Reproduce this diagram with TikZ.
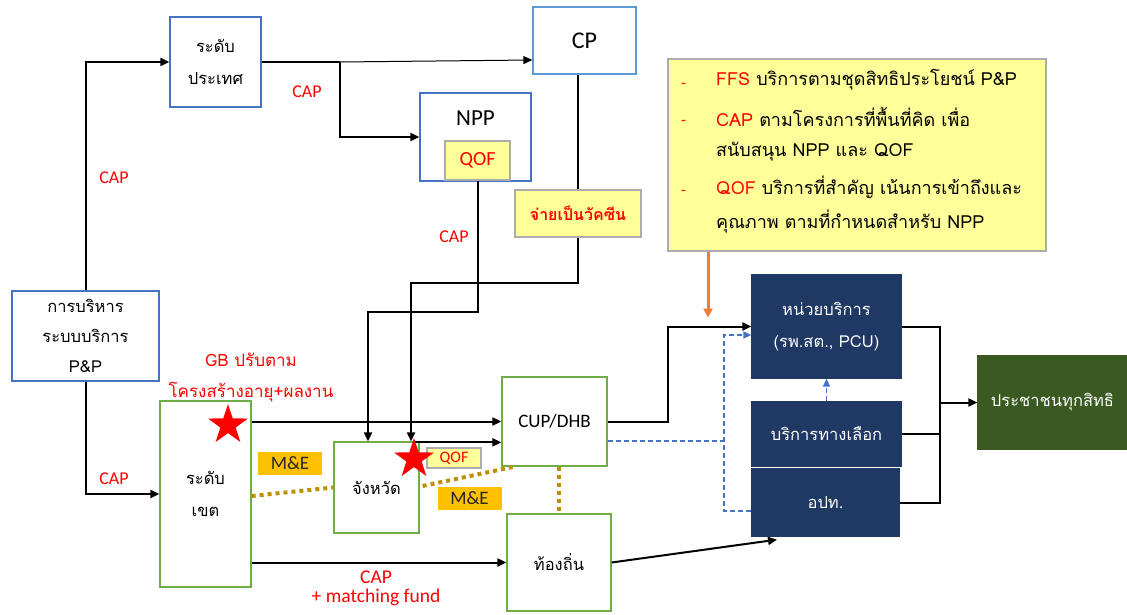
\documentclass[tikz,border=0pt]{standalone}
\usepackage{fontspec}
\setmainfont{Carlito}
\newfontfamily\thai[Script=Thai]{Loma}
\usetikzlibrary{arrows.meta,shapes.geometric,calc}

\definecolor{bordblue}{HTML}{4472C4}
\definecolor{cpblue}{HTML}{5B9BD5}
\definecolor{bordgreen}{HTML}{70AD47}
\definecolor{navy}{HTML}{1F3864}
\definecolor{forest}{HTML}{3A5A22}
\definecolor{paleyellow}{HTML}{FFFF99}
\definecolor{amber}{HTML}{FFC000}
\definecolor{gold}{HTML}{BF9000}
\definecolor{tangerine}{HTML}{ED7D31}
\definecolor{hotred}{HTML}{FF0000}

\begin{document}
\begin{tikzpicture}[x=1pt,y=-1pt,
  box/.style={draw, line width=1.3pt, inner sep=0pt, align=center, fill=white},
  bluebox/.style={box, draw=bordblue},
  greenbox/.style={box, draw=bordgreen},
  navybox/.style={box, draw=navy, fill=navy, text=white},
  tag/.style={draw=gray!65, line width=1.2pt, fill=paleyellow, inner sep=0pt, align=center},
  metag/.style={fill=amber, inner sep=0pt, minimum width=64pt, minimum height=23pt, font=\fontsize{19}{20}\selectfont, text=black!85},
  thaitext/.style={font=\thai\fontsize{16.5}{32}\selectfont},
  lbl/.style={text=hotred, font=\fontsize{18}{20}\selectfont, inner sep=0pt, align=center},
  link/.style={line width=2pt, -{Triangle[length=9pt,width=8pt]}},
  wire/.style={line width=2pt},
  gdot/.style={draw=gold, line width=4pt, dash pattern=on 4pt off 4pt},
  bdash/.style={draw=bordblue, line width=1.6pt, dash pattern=on 5pt off 3pt},
  redstar/.style={star, star points=5, star point ratio=2.6, fill=hotred, draw=none, inner sep=0pt, minimum size=42pt}
]
\fill[white] (0,0) rectangle (1127,615);
\useasboundingbox (0,0) rectangle (1127,615);

% ---------- boxes ----------
\node[bluebox, thaitext, minimum width=91pt, minimum height=90pt] (prathet) at (215.5,62) {ระดับ\\ประเทศ};
\node[box, draw=cpblue, minimum width=103pt, minimum height=67pt, font=\fontsize{24}{26}\selectfont] (cp) at (584.5,40.5) {CP};
\node[bluebox, minimum width=111pt, minimum height=88pt] (npp) at (475.5,137) {};
\node[font=\fontsize{23}{25}\selectfont, inner sep=0pt] (npplabel) at (475.5,118) {NPP};
\node[tag, minimum width=65pt, minimum height=39pt, text=hotred, font=\fontsize{20}{22}\selectfont] (qof) at (477.5,160.5) {QOF};
\node[tag, minimum width=126pt, minimum height=47pt, text=hotred, font=\thai\bfseries\fontsize{16}{20}\selectfont] (vac) at (578,213.5) {จ่ายเป็นวัคซีน};
\node[tag, minimum width=378pt, minimum height=192pt] (note) at (857,155) {};

\node[bluebox, thaitext, font=\thai\fontsize{16.5}{30}\selectfont, minimum width=147pt, minimum height=90pt] (admin) at (85.5,336) {การบริหาร\\ระบบบริการ\\P\&P};
\node[greenbox, thaitext, minimum width=91pt, minimum height=186pt] (khet) at (205.5,494) {ระดับ\\เขต};
\node[greenbox, thaitext, minimum width=85pt, minimum height=91pt] (changwat) at (376.5,487.5) {จังหวัด};
\node[greenbox, minimum width=105pt, minimum height=89pt, font=\fontsize{19}{21}\selectfont] (cup) at (554.5,421.5) {CUP/DHB};
\node[greenbox, thaitext, minimum width=104pt, minimum height=97pt] (local) at (559,562.5) {ท้องถิ่น};

\node[navybox, thaitext, minimum width=149pt, minimum height=103pt] (unit) at (826.5,326.5) {หน่วยบริการ\\(รพ.สต., PCU)};
\node[navybox, thaitext, minimum width=149pt, minimum height=64pt] (alt) at (826.5,434) {บริการทางเลือก};
\node[navybox, thaitext, minimum width=147pt, minimum height=67pt] (opt) at (825.5,502.5) {อปท.};
\node[box, draw=forest, fill=forest, text=white, thaitext, minimum width=149pt, minimum height=93pt] (people) at (1052.5,402.5) {ประชาชนทุกสิทธิ};

% ---------- note text ----------
\begin{scope}[every node/.style={anchor=west, inner sep=0pt, font=\thai\fontsize{18}{20}\selectfont},
  bullet/.style={text=hotred, font=\fontsize{16}{18}\selectfont}]
  \node[bullet] (d1) at (681,86) {-};
  \node (n1) at (716,80) {\textcolor{hotred}{FFS} บริการตามชุดสิทธิประโยชน์ P\&P};
  \node[bullet] (d2) at (681,123) {-};
  \node (n2) at (716,117) {\textcolor{hotred}{CAP} ตามโครงการที่พื้นที่คิด เพื่อ};
  \node (n3) at (716,152) {สนับสนุน NPP และ QOF};
  \node[bullet] (d3) at (681,193) {-};
  \node (n4) at (716,187) {\textcolor{hotred}{QOF} บริการที่สำคัญ เน้นการเข้าถึงและ};
  \node (n5) at (716,222) {คุณภาพ ตามที่กำหนดสำหรับ NPP};
\end{scope}

% ---------- small tags ----------
\node[metag] (me1) at (290,463) {M\&E};
\node[metag] (me2) at (469.5,498.5) {M\&E};
\node[tag, minimum width=54pt, minimum height=20pt, text=hotred, font=\fontsize{16}{18}\selectfont] (qofs) at (454,458) {QOF};

% ---------- labels ----------
\node[lbl] (capa) at (114,178) {CAP};
\node[lbl] (capb) at (307,92) {CAP};
\node[lbl] (capc) at (454,237) {CAP};
\node[lbl] (capd) at (114,479) {CAP};
\node[lbl, font=\thai\fontsize{17}{31}\selectfont] (gb) at (251,377) {GB ปรับตาม\\โครงสร้างอายุ+ผลงาน};
\node[lbl, font=\fontsize{19.5}{19}\selectfont] (capm) at (376,588) {CAP\\+ matching fund};

% ---------- connectors ----------
\draw[link] (admin.north) |- (prathet.west);
\draw[link] (admin.south) |- (khet.west);

\coordinate (split) at (340,62);
\draw[wire] (prathet.east) -- (split);
\draw[link] (split) |- (npp.west);
\draw[line width=1pt, -{Triangle[length=9pt,width=8pt]}] (split) -- ([yshift=-19.5pt]cp.west);

\draw[wire] ([xshift=-6.5pt]cp.south) -- (vac.north);
\draw[link] (vac.south) -- ++(0,45) -| ([xshift=34.5pt]changwat.north);
\draw[link] (qof.south) -- ++(0,131.5) -| ([xshift=-8.5pt]changwat.north);

\draw[link] (khet.east |- cup.west) -- (cup.west);
\draw[link] ([xshift=-7pt,yshift=-1pt]changwat.north east) coordinate (s2) -- (s2 -| cup.west);
\draw[link] (khet.east |- local.west) -- (local.west);
\draw[link] (local.east) -- ([xshift=-48.5pt,yshift=-3pt]opt.south);

\draw[link] (cup.east) -- ++(60,0) |- (unit.west);
\draw[bdash] ([yshift=-19.5pt]cup.east) -- (724,441);
\draw[bdash, -{Triangle[length=8pt,width=7pt]}] ([yshift=-8.5pt]opt.west) -| (724,335) -- ([yshift=-8.5pt]unit.west);
\draw[bdash, -{Triangle[length=8pt,width=7pt]}] (alt.north) -- (unit.south);

\coordinate (bus) at (940,402.5);
\draw[wire] (unit.east) -| (bus);
\draw[wire] (alt.east) -| (bus);
\draw[wire] (opt.east) -| (bus);
\draw[link] (bus) -- (people.west);

\draw[draw=tangerine, line width=3pt, -{Triangle[length=9pt,width=9pt]}] ([xshift=-149pt]note.south) -- ++(0,66);

% ---------- dotted monitoring lines ----------
\draw[gdot] ([yshift=-2pt]khet.east) -- (changwat.west);
\draw[gdot] ([xshift=3pt,yshift=1.5pt]changwat.east) -- ([xshift=13pt]cup.south west);
\draw[gdot] (cup.south -| local.north) -- (local.north);

% ---------- stars ----------
\node[redstar] (star1) at (228,425) {};
\node[redstar] (star2) at (414,459) {};
\end{tikzpicture}
\end{document}
